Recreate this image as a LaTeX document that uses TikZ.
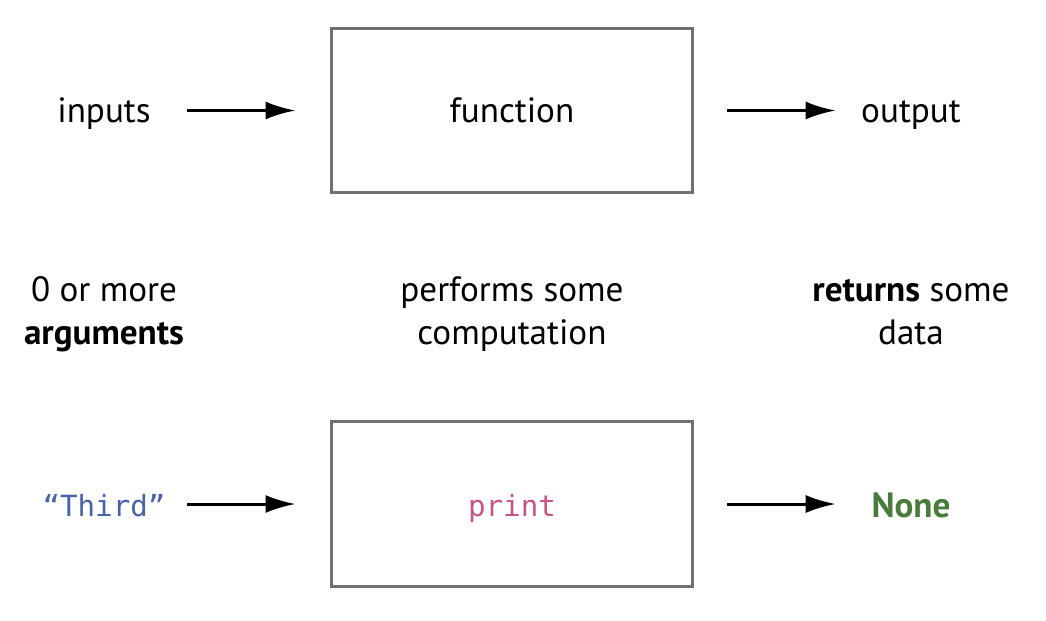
\documentclass[tikz,border=0pt]{standalone}
\usepackage{fontspec}
\setmainfont{PT Sans}
\setmonofont{DejaVu Sans Mono}
\usetikzlibrary{arrows.meta, positioning}

\definecolor{boxgray}{RGB}{112,112,112}
\definecolor{strblue}{RGB}{72,98,168}
\definecolor{fnpink}{RGB}{200,84,134}
\definecolor{nonegreen}{RGB}{72,124,58}

\tikzset{
  fnbox/.style={draw=boxgray, line width=1.7pt, minimum width=7.24cm, minimum height=3.3cm, inner sep=0pt},
  lbl/.style={inner sep=0pt, minimum width=3cm, align=center, anchor=base, font=\fontsize{20}{24}\selectfont},
  code/.style={inner sep=0pt, minimum width=3cm, anchor=base, font=\fontsize{16.6}{20}\selectfont\ttfamily},
  arr/.style={-{Latex[length=0.6cm, width=0.36cm]}, line width=1.7pt}
}

\begin{document}
\begin{tikzpicture}[x=0.02cm, y=-0.02cm]
\useasboundingbox (0,0) rectangle (1046,620);

% Top row
\node[fnbox] (fun) at (512,110.5) {};
\node[lbl] (fname) at (512,122) {function};
\node[lbl] (inputs) at (104,122) {inputs};
\node[lbl] (output) at (911,122) {output};
\draw[arr, shorten <=8*0.02cm, shorten >=34*0.02cm] (inputs.east |- fun.west) -- (fun.west);
\draw[arr, shorten <=33*0.02cm] (fun.east) -- (output.west |- fun.east);

% Middle notes
\node[lbl] (args) at (104,344) {0 or more\\\textbf{arguments}};
\node[lbl] (comp) at (512,344) {performs some\\computation};
\node[lbl] (ret) at (911,344) {\textbf{returns} some\\data};

% Example
\node[fnbox] (pfun) at (512,504) {};
\node[code, text=fnpink] (pname) at (512,516) {print};
\node[code, text=strblue] (third) at (104,516) {“Third”};
\node[lbl, text=nonegreen, font=\fontsize{20}{24}\selectfont\bfseries] (none) at (911,517) {None};
\draw[arr, shorten <=8*0.02cm, shorten >=34*0.02cm] (third.east |- pfun.west) -- (pfun.west);
\draw[arr, shorten <=33*0.02cm] (pfun.east) -- (none.west |- pfun.east);
\end{tikzpicture}
\end{document}
